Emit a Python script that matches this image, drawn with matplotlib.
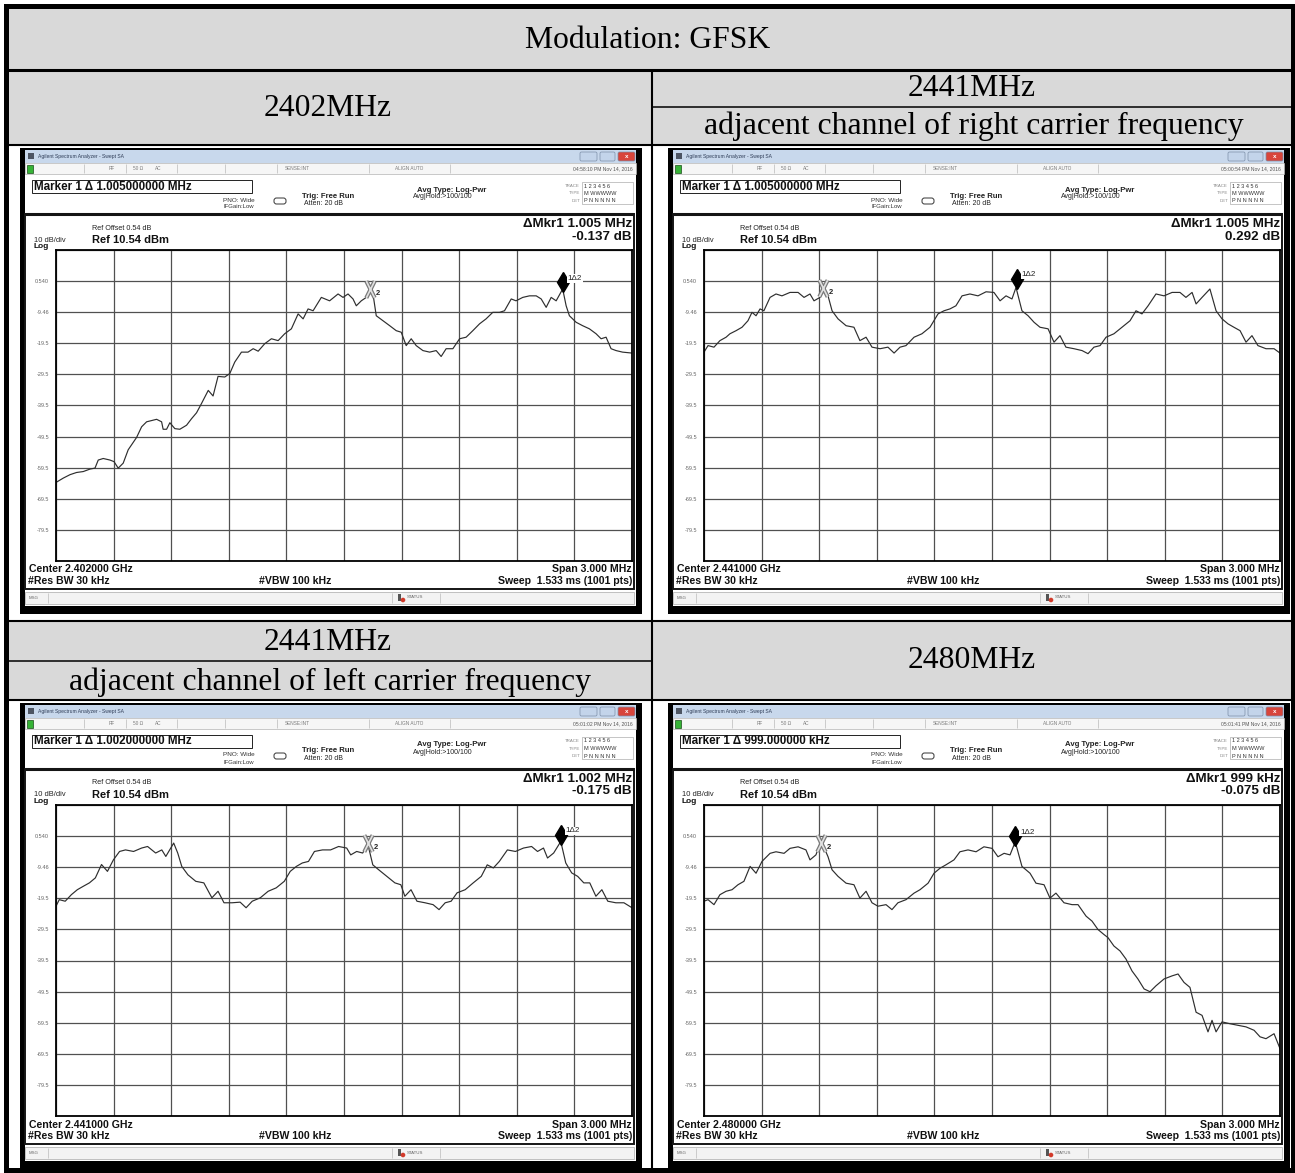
import matplotlib
matplotlib.use("Agg")
import matplotlib.pyplot as plt
from matplotlib.patches import Rectangle, FancyBboxPatch, Circle
from matplotlib.path import Path

# ================= DATA (offset from center in MHz, level in dBm) =================
f_2402 = [-1.500, -1.462, -1.427, -1.393, -1.358, -1.323, -1.297, -1.280, -1.254, -1.219,
          -1.198, -1.176, -1.150, -1.124, -1.080, -1.054, -1.028, -0.976, -0.950, -0.942,
          -0.924, -0.907, -0.881, -0.855, -0.820, -0.794, -0.768, -0.742, -0.707, -0.682,
          -0.656, -0.621, -0.595, -0.569, -0.534, -0.500, -0.473, -0.447, -0.413, -0.378,
          -0.343, -0.309, -0.274, -0.239, -0.213, -0.187, -0.161, -0.118, -0.075, -0.031,
          -0.005, 0.021, 0.047, 0.064, 0.090, 0.116, 0.134, 0.151, 0.168, 0.203,
          0.238, 0.272, 0.298, 0.324, 0.350, 0.376, 0.411, 0.446, 0.480, 0.506,
          0.532, 0.567, 0.602, 0.636, 0.671, 0.706, 0.740, 0.775, 0.810, 0.836,
          0.871, 0.896, 0.931, 0.966, 1.001, 1.027, 1.053, 1.079, 1.105, 1.139,
          1.157, 1.174, 1.209, 1.243, 1.278, 1.313, 1.339, 1.365, 1.391, 1.417,
          1.451, 1.500]
p_2402 = [-64.2, -62.8, -61.7, -61.0, -60.7, -59.9, -59.6, -57.0, -56.5, -57.0,
          -57.5, -59.6, -58.0, -53.7, -49.7, -46.3, -44.7, -43.9, -44.7, -47.1,
          -47.1, -45.0, -46.9, -47.1, -45.8, -43.7, -41.8, -38.8, -34.6, -36.4,
          -30.1, -30.3, -29.2, -25.5, -22.3, -22.3, -21.2, -22.0, -19.6, -18.0,
          -18.6, -16.4, -14.8, -10.0, -11.6, -8.4, -9.0, -4.7, -5.8, -3.6,
          -4.7, -3.6, -5.2, -7.4, -5.8, -4.7, -3.1, -3.6, -10.6, -12.2,
          -13.8, -15.4, -15.9, -20.2, -18.0, -20.2, -21.8, -22.3, -21.8, -23.7,
          -21.2, -21.2, -18.0, -17.5, -15.4, -13.2, -11.6, -9.5, -9.5, -9.0,
          -5.2, -5.8, -4.7, -4.2, -4.2, -5.2, -7.9, -4.7, -5.8, -2.0,
          -7.4, -10.6, -12.7, -13.8, -14.8, -16.4, -18.0, -17.5, -21.2, -21.8,
          -22.3, -22.6]

f_2441r = [-1.500, -1.479, -1.448, -1.417, -1.385, -1.365, -1.333, -1.302, -1.271, -1.250,
           -1.229, -1.208, -1.188, -1.156, -1.125, -1.094, -1.052, -1.010, -0.979, -0.948,
           -0.927, -0.896, -0.875, -0.854, -0.833, -0.802, -0.760, -0.719, -0.688, -0.656,
           -0.625, -0.583, -0.542, -0.510, -0.479, -0.448, -0.406, -0.365, -0.323, -0.281,
           -0.250, -0.219, -0.188, -0.156, -0.115, -0.073, -0.031, 0.010, 0.042, 0.073,
           0.104, 0.125, 0.156, 0.188, 0.219, 0.250, 0.292, 0.323, 0.354, 0.385,
           0.427, 0.469, 0.500, 0.531, 0.563, 0.594, 0.635, 0.677, 0.719, 0.750,
           0.781, 0.813, 0.854, 0.896, 0.938, 0.979, 1.010, 1.042, 1.063, 1.094,
           1.135, 1.167, 1.198, 1.229, 1.260, 1.292, 1.323, 1.354, 1.385, 1.427,
           1.469, 1.500]
p_2441r = [-22.3, -20.2, -20.7, -18.6, -17.5, -16.4, -15.4, -14.3, -12.2, -9.5,
           -10.6, -8.4, -9.0, -4.7, -3.6, -4.2, -3.1, -3.1, -4.7, -3.6,
           -5.8, -4.7, -2.0, -4.2, -9.0, -11.6, -13.8, -14.3, -18.6, -17.5,
           -20.7, -21.2, -20.7, -22.6, -20.7, -20.2, -17.5, -16.4, -14.3, -10.0,
           -9.0, -8.4, -7.4, -4.2, -3.6, -4.2, -2.9, -3.1, -5.8, -4.2,
           -5.2, -1.5, -9.0, -10.6, -12.7, -14.3, -14.8, -19.1, -17.0, -20.7,
           -21.2, -21.8, -22.8, -20.7, -20.2, -17.5, -16.4, -14.3, -12.2, -9.0,
           -10.0, -7.4, -3.6, -4.2, -3.1, -3.1, -4.7, -3.1, -6.8, -4.7,
           -2.0, -9.0, -11.6, -13.2, -14.3, -15.4, -19.1, -17.0, -20.2, -21.2,
           -21.2, -22.6]

f_2441l = [-1.500, -1.483, -1.452, -1.420, -1.389, -1.358, -1.326, -1.295, -1.263, -1.232,
           -1.201, -1.169, -1.138, -1.096, -1.054, -1.023, -0.981, -0.949, -0.928, -0.887,
           -0.866, -0.845, -0.813, -0.772, -0.730, -0.688, -0.656, -0.625, -0.583, -0.541,
           -0.510, -0.478, -0.436, -0.395, -0.353, -0.311, -0.280, -0.248, -0.217, -0.185,
           -0.154, -0.112, -0.070, -0.028, 0.014, 0.035, 0.066, 0.097, 0.125, 0.150,
           0.181, 0.223, 0.265, 0.296, 0.317, 0.349, 0.380, 0.422, 0.464, 0.495,
           0.527, 0.558, 0.589, 0.631, 0.673, 0.715, 0.746, 0.778, 0.809, 0.851,
           0.893, 0.935, 0.977, 1.008, 1.039, 1.060, 1.092, 1.129, 1.155, 1.186,
           1.217, 1.249, 1.280, 1.312, 1.343, 1.374, 1.416, 1.458, 1.500]
p_2441l = [-22.0, -19.9, -20.4, -18.3, -16.7, -15.6, -14.5, -12.9, -8.6, -10.8,
           -7.1, -4.4, -3.9, -4.4, -3.3, -2.8, -4.9, -3.9, -6.0, -1.7,
           -4.9, -9.2, -11.9, -14.0, -14.5, -19.3, -17.2, -20.9, -20.9, -20.7,
           -22.5, -20.4, -19.3, -17.2, -16.1, -14.0, -10.8, -9.2, -8.1, -7.6,
           -4.4, -3.9, -3.9, -2.8, -3.3, -5.5, -4.4, -4.9, -2.3, -8.7,
           -10.3, -12.4, -14.5, -15.1, -18.8, -16.7, -20.4, -20.9, -21.5, -23.1,
           -20.9, -20.4, -17.7, -16.7, -14.5, -12.4, -8.7, -9.7, -7.6, -3.9,
           -4.4, -3.3, -2.8, -4.4, -3.3, -6.5, -4.9, -1.2, -8.1, -11.3,
           -12.4, -14.5, -14.5, -18.8, -16.7, -20.4, -20.9, -20.9, -22.5]

f_2480 = [-1.500, -1.479, -1.448, -1.417, -1.385, -1.354, -1.323, -1.292, -1.260, -1.229,
          -1.198, -1.156, -1.125, -1.083, -1.052, -1.010, -0.969, -0.948, -0.917, -0.890,
          -0.854, -0.833, -0.802, -0.760, -0.719, -0.688, -0.656, -0.625, -0.594, -0.552,
          -0.521, -0.490, -0.448, -0.406, -0.375, -0.333, -0.302, -0.271, -0.240, -0.198,
          -0.167, -0.125, -0.083, -0.042, 0.000, 0.031, 0.063, 0.094, 0.121, 0.156,
          0.198, 0.229, 0.271, 0.302, 0.333, 0.375, 0.417, 0.448, 0.490, 0.521,
          0.552, 0.583, 0.604, 0.635, 0.667, 0.698, 0.729, 0.760, 0.792, 0.823,
          0.854, 0.896, 0.938, 0.969, 1.000, 1.031, 1.063, 1.094, 1.125, 1.146,
          1.167, 1.198, 1.240, 1.281, 1.323, 1.365, 1.396, 1.427, 1.469, 1.500]
p_2480 = [-20.4, -19.9, -21.5, -18.3, -17.2, -16.7, -15.1, -14.0, -9.2, -11.4,
          -7.6, -5.0, -4.5, -5.0, -3.4, -2.9, -3.9, -7.1, -5.5, -1.0,
          -6.1, -10.3, -12.4, -14.6, -15.1, -19.4, -17.2, -20.9, -22.0, -21.5,
          -23.1, -20.9, -19.9, -17.8, -16.7, -14.6, -11.4, -9.8, -8.7, -7.1,
          -4.5, -3.9, -4.5, -2.9, -3.4, -6.1, -5.0, -5.5, -1.3, -9.2,
          -11.4, -14.6, -15.1, -19.4, -17.8, -20.9, -21.5, -21.5, -25.2, -26.8,
          -29.5, -31.1, -32.1, -34.8, -36.4, -39.0, -42.8, -45.4, -48.6, -49.5,
          -47.6, -45.4, -44.4, -43.8, -46.5, -48.1, -56.1, -57.1, -62.4, -58.7,
          -62.4, -59.2, -59.8, -60.3, -60.8, -61.9, -64.0, -64.6, -63.0, -67.8]

# marker glyph positions (MHz offset, dBm): marker 2 (X) and marker 1 (diamond)
mk2_pos = [(0.134, -2.0), (-0.879, -1.7), (0.125, -1.7), (-0.890, -1.8)]
mk1_pos = [(1.139, 0.1), (0.129, 1.2), (1.129, 0.9), (0.121, 0.5)]

marker_txt = ["Marker 1 \u0394 1.005000000 MHz", "Marker 1 \u0394 1.005000000 MHz",
              "Marker 1 \u0394 1.002000000 MHz", "Marker 1 \u0394 999.000000 kHz"]
dmkr_f = ["1.005 MHz", "1.005 MHz", "1.002 MHz", "999 kHz"]
dmkr_db = ["-0.137 dB", "0.292 dB", "-0.175 dB", "-0.075 dB"]
centers = ["Center 2.402000 GHz", "Center 2.441000 GHz", "Center 2.441000 GHz", "Center 2.480000 GHz"]
stamps = ["04:58:10 PM Nov 14, 2016", "05:00:54 PM Nov 14, 2016",
          "05:01:02 PM Nov 14, 2016", "05:01:41 PM Nov 14, 2016"]
ytick_lbl = ["", "0.540", "-9.46", "-19.5", "-29.5", "-39.5", "-49.5", "-59.5", "-69.5", "-79.5", ""]

# ================= FIGURE =================
FW, FH = 1295, 1173
fig = plt.figure(figsize=(FW / 100, FH / 100), dpi=100)
ax = fig.add_axes([0, 0, 1, 1])
ax.set_xlim(0, FW)
ax.set_ylim(FH, 0)
ax.axis("off")

SANS = "Liberation Sans"
SERIF = "Liberation Serif"


def box(x, y, w, h, fc="none", ec="none", lw=0, z=2):
    ax.add_patch(Rectangle((x, y), w, h, facecolor=fc, edgecolor=ec, linewidth=lw, zorder=z))


def txt(x, y, s, size, ha="left", weight="normal", color="#111111", fam=SANS, z=6):
    ax.text(x, y, s, fontsize=size, ha=ha, va="center", fontweight=weight,
            color=color, family=fam, zorder=z)


def hline(x0, x1, y, lw, color="black", z=4):
    ax.plot([x0, x1], [y, y], color=color, lw=lw, zorder=z, solid_capstyle="butt")


def vline(x, y0, y1, lw, color="black", z=4):
    ax.plot([x, x], [y0, y1], color=color, lw=lw, zorder=z, solid_capstyle="butt")


# ================= TABELA =================
GRAY = "#d9d9d9"
box(6, 5, 1287, 65, GRAY, z=1)
box(6, 70, 1287, 75, GRAY, z=1)
box(6, 621, 1287, 79, GRAY, z=1)
hline(6, 1293, 70, 2.2)
hline(6, 1293, 145, 1.5)
hline(6, 1293, 621, 1.5)
hline(6, 1293, 700, 1.5)
vline(652, 70, 1170, 1.5)
hline(652, 1293, 107, 1.1)
hline(6, 652, 661, 1.1)
ax.add_patch(Rectangle((6, 5.5), 1287, 1164, facecolor="none", edgecolor="black",
                       linewidth=3.6, zorder=7))

TS = 22.8
txt(648, 40, "Modulation: GFSK", TS, ha="center", fam=SERIF, color="black")
txt(328, 108, "2402MHz", TS, ha="center", fam=SERIF, color="black")
txt(972, 88, "2441MHz", TS, ha="center", fam=SERIF, color="black")
txt(974, 126, "adjacent channel of right carrier frequency", TS, ha="center", fam=SERIF, color="black")
txt(328, 643, "2441MHz", TS, ha="center", fam=SERIF, color="black")
txt(330, 682, "adjacent channel of left carrier frequency", TS, ha="center", fam=SERIF, color="black")
txt(972, 661, "2480MHz", TS, ha="center", fam=SERIF, color="black")

# marker paths
X_PATH = Path([(-0.5, -1), (0.5, 1), (-0.5, 1), (0.5, -1)],
              [Path.MOVETO, Path.LINETO, Path.MOVETO, Path.LINETO])


# ================= SCREENSHOT =================
def screen(x0, y0, i, freqs, levels):
    W, H = 622, 466
    box(x0, y0, W, H, fc="black")
    box(x0 + 5, y0 + 2, W - 11, H - 10, fc="white")

    # title bar
    box(x0 + 5, y0 + 2, W - 11, 13, fc="#c8d8ec", z=3)
    box(x0 + 8, y0 + 5, 6, 6, fc="#4d5563", z=4)
    txt(x0 + 18, y0 + 8.5, "Agilent Spectrum Analyzer - Swept SA", 3.6, color="#2d3b55")
    for a, b, c in [(560, 577, "#c3d4ea"), (580, 595, "#c3d4ea"), (598, 615, "#d8453b")]:
        ax.add_patch(FancyBboxPatch((x0 + a, y0 + 4), b - a, 9,
                                    boxstyle="round,pad=0,rounding_size=1.5",
                                    facecolor=c, edgecolor="#7d8fa8", linewidth=0.5, zorder=4))
    txt(x0 + 606.5, y0 + 8.5, "x", 4.5, ha="center", weight="bold", color="white")

    # status row
    box(x0 + 5, y0 + 15, W - 11, 11, fc="#f6f6f6", ec="#b5b5b5", lw=0.5, z=3)
    box(x0 + 7, y0 + 16.5, 6, 8, fc="#36b336", ec="#174d17", lw=0.5, z=4)
    for sx in [64, 106, 157, 205, 257, 349, 430]:
        vline(x0 + sx, y0 + 16, y0 + 25, 0.5, color="#bbbbbb")
    st = dict(size=3.4, color="#7a7a7a")
    txt(x0 + 92, y0 + 20.5, "RF", ha="center", **st)
    txt(x0 + 118, y0 + 20.5, "50 \u03a9", ha="center", **st)
    txt(x0 + 138, y0 + 20.5, "AC", ha="center", **st)
    txt(x0 + 277, y0 + 20.5, "SENSE:INT", ha="center", **st)
    txt(x0 + 389, y0 + 20.5, "ALIGN AUTO", ha="center", **st)
    txt(x0 + 613, y0 + 20.5, stamps[i], ha="right", size=3.6, color="#555555")

    # marker panel
    box(x0 + 12, y0 + 32, 220, 13, fc="white", ec="#222222", lw=0.7, z=4)
    txt(x0 + 14, y0 + 38.5, marker_txt[i], 8.4, weight="bold")
    txt(x0 + 203, y0 + 52, "PNO: Wide", 4.6, color="#333333")
    txt(x0 + 203, y0 + 59, "IFGain:Low", 4.3, color="#333333")
    ax.add_patch(FancyBboxPatch((x0 + 254, y0 + 50), 12, 6,
                                boxstyle="round,pad=0,rounding_size=2.5",
                                facecolor="white", edgecolor="#333333", linewidth=0.7, zorder=4))
    txt(x0 + 282, y0 + 48, "Trig: Free Run", 5.6, weight="bold", color="#222222")
    txt(x0 + 284, y0 + 55.5, "Atten: 20 dB", 5.0, color="#222222")
    txt(x0 + 397, y0 + 42, "Avg Type: Log-Pwr", 5.6, weight="bold", color="#222222")
    txt(x0 + 393, y0 + 49, "Avg|Hold:>100/100", 5.0, color="#222222")
    box(x0 + 562, y0 + 34, 51, 22, fc="white", ec="#999999", lw=0.4, z=4)
    for k, (lab, val) in enumerate([("TRACE", "1 2 3 4 5 6"), ("TYPE", "M WWWWW"),
                                     ("DET", "P N N N N N")]):
        txt(x0 + 560, y0 + 38 + 7.5 * k, lab, 3.2, ha="right", color="#888888")
        txt(x0 + 564, y0 + 38 + 7.5 * k, val, 4.0, color="#333333")

    # graph panel
    box(x0 + 5, y0 + 66, 609, 375, fc="white", ec="#151515", lw=1.4, z=3)
    hline(x0 + 5, x0 + 614, y0 + 66, 2.2, color="#151515")
    txt(x0 + 72, y0 + 80, "Ref Offset 0.54 dB", 5.2, color="#222222")
    txt(x0 + 14, y0 + 92, "10 dB/div", 5.4, color="#222222")
    txt(x0 + 72, y0 + 92, "Ref 10.54 dBm", 8, weight="bold")
    txt(x0 + 14, y0 + 98.5, "Log", 6, weight="bold")
    txt(x0 + 612, y0 + 76, "\u0394Mkr1 " + dmkr_f[i], 9.6, ha="right", weight="bold")
    txt(x0 + 612, y0 + 88.5, dmkr_db[i], 9.6, ha="right", weight="bold")
    txt(x0 + 9, y0 + 421.5, centers[i], 7.6, weight="bold")
    txt(x0 + 8, y0 + 433, "#Res BW 30 kHz", 7.6, weight="bold")
    txt(x0 + 275, y0 + 433, "#VBW 100 kHz", 7.6, ha="center", weight="bold")
    txt(x0 + 612, y0 + 421.5, "Span 3.000 MHz", 7.6, ha="right", weight="bold")
    txt(x0 + 612, y0 + 433, "Sweep  1.533 ms (1001 pts)", 7.6, ha="right", weight="bold")

    # msg bar
    box(x0 + 5, y0 + 444, 609, 12, fc="#f3f3f3", ec="#aaaaaa", lw=0.5, z=3)
    txt(x0 + 9, y0 + 450, "MSG", 3.2, color="#666666")
    for sx in [28, 372, 420]:
        vline(x0 + sx, y0 + 445, y0 + 455, 0.5, color="#bbbbbb")
    box(x0 + 378, y0 + 446, 3, 7, fc="#555555", z=4)
    ax.add_patch(Circle((x0 + 383, y0 + 452), 2.3, facecolor="#d23a2a", edgecolor="none", zorder=5))
    txt(x0 + 387, y0 + 449.5, "STATUS", 3.2, color="#666666")

    # trace plot
    pa = fig.add_axes([(x0 + 36) / FW, 1 - (y0 + 413) / FH, 576 / FW, 311 / FH])
    pa.set_xlim(-1.5, 1.5)
    pa.set_ylim(-89.46, 10.54)
    pa.set_xticks([-1.5 + 0.3 * k for k in range(11)])
    pa.set_yticks([10.54 - 10 * k for k in range(11)])
    pa.set_xticklabels([])
    pa.set_yticklabels(ytick_lbl)
    pa.tick_params(length=0, pad=5, labelsize=4, labelcolor="#666666")
    for lab in pa.get_yticklabels():
        lab.set_family(SANS)
    pa.grid(True, color="#505050", lw=0.9)
    pa.set_axisbelow(True)
    for s in pa.spines.values():
        s.set_linewidth(1.3)
    pa.plot(freqs, levels, color="#2e2e2e", lw=0.85)

    fx, fy = mk2_pos[i]
    pa.plot(fx, fy, marker=X_PATH, ms=12, mew=3.0, mec="#7a7a7a", ls="none")
    pa.plot(fx, fy, marker=X_PATH, ms=12, mew=1.2, mec="#e2e2e2", ls="none")
    pa.annotate("2", (fx, fy), xytext=(4, -3), textcoords="offset points",
                fontsize=5.5, fontweight="bold", family=SANS, color="#222222", va="center")
    dx_, dy_ = mk1_pos[i]
    pa.plot(dx_, dy_, marker="d", ms=10, color="black", ls="none")
    pa.annotate("1\u03942", (dx_, dy_), xytext=(3.5, 3), textcoords="offset points",
                fontsize=5.8, family=SANS, color="#222222", va="center",
                bbox=dict(boxstyle="square,pad=0.1", fc="white", ec="none"))


screen(20, 148, 0, f_2402, p_2402)
screen(668, 148, 1, f_2441r, p_2441r)
screen(20, 703, 2, f_2441l, p_2441l)
screen(668, 703, 3, f_2480, p_2480)

fig.savefig("out.png", dpi=100)
